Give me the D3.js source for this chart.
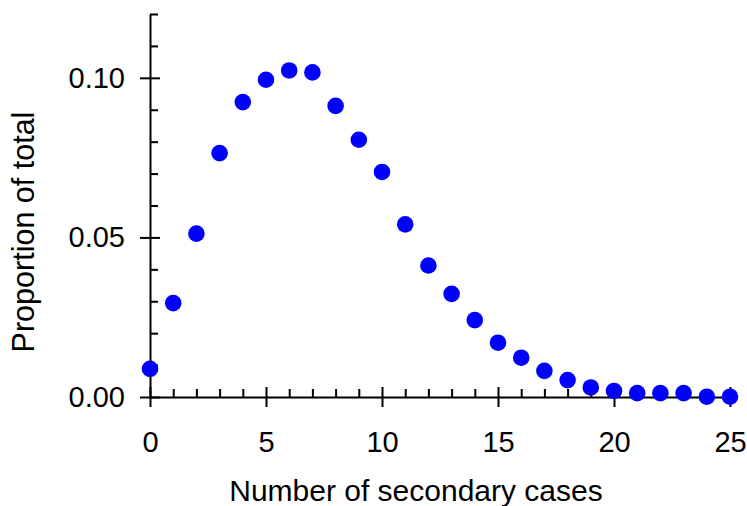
<!DOCTYPE html>
<html>
<head>
<meta charset="utf-8">
<script src="https://cdn.jsdelivr.net/npm/d3@7"></script>
<style>
  body { margin: 0; background: #fff; }
  text { font-family: "Liberation Sans", Arial, sans-serif; fill: #000; }
  .axis path, .axis line { stroke: #000; stroke-width: 2; }
</style>
</head>
<body>
<div id="chart"></div>
<script>
// number of secondary cases
var cases = [0,1,2,3,4,5,6,7,8,9,10,11,12,13,14,15,16,17,18,19,20,21,22,23,24,25];
// proportion of total
var proportion = [0.0088,0.0294,0.0512,0.0764,0.0924,0.0994,0.1023,0.1017,0.0912,0.0806,
                  0.0705,0.0541,0.0412,0.0323,0.0241,0.0170,0.0123,0.0082,0.0053,0.0030,
                  0.0019,0.0012,0.0012,0.0012,0.0001,0.0001];
var xMajor = [0,5,10,15,20,25];
var xMinor = d3.range(0, 26).filter(d => d % 5 != 0);
var yMajor = [0, 0.05, 0.10];
var yMinor = [0.01,0.02,0.03,0.04,0.06,0.07,0.08,0.09,0.11,0.12];

var width = 747, height = 506;

var svg = d3.select("#chart")
  .append("svg")
  .attr("width", width)
  .attr("height", height);

var x = d3.scaleLinear().domain([0, 25]).range([150, 730]);
var y = d3.scaleLinear().domain([0, 0.12]).range([397, 14]);

/* y axis: major ticks cross the line, minor ticks point inwards */
var gy = svg.append("g")
  .attr("class", "axis")
  .attr("transform", "translate(150,0)")
  .call(d3.axisLeft(y).tickValues(yMajor).tickSize(10).tickSizeOuter(0)
        .tickPadding(15).tickFormat(d3.format(".2f")));
gy.selectAll(".tick line").attr("x1", 10);
gy.selectAll(".tick text").attr("font-size", 29);

svg.append("g")
  .attr("class", "axis")
  .attr("transform", "translate(150,0)")
  .call(d3.axisRight(y).tickValues(yMinor).tickSize(8).tickFormat(""))
  .select(".domain").remove();

/* x axis */
var gx = svg.append("g")
  .attr("class", "axis")
  .attr("transform", "translate(0,397)")
  .call(d3.axisBottom(x).tickValues(xMajor).tickSize(10).tickSizeOuter(0)
        .tickPadding(24));
gx.selectAll(".tick line").attr("y1", -10);
gx.selectAll(".tick text").attr("font-size", 29);

svg.append("g")
  .attr("class", "axis")
  .attr("transform", "translate(0,397)")
  .call(d3.axisTop(x).tickValues(xMinor).tickSize(8).tickFormat(""))
  .select(".domain").remove();

svg.selectAll(".axis text").attr("font-family", '"Liberation Sans", Arial, sans-serif');

/* points */
svg.selectAll(".dot")
  .data(cases)
  .enter()
  .append("circle")
  .attr("class", "dot")
  .attr("cx", d => x(d))
  .attr("cy", (d, i) => y(proportion[i]))
  .attr("r", 8.3)
  .attr("fill", "#0000ff");

/* axis titles */
svg.append("text")
  .attr("x", 416)
  .attr("y", 501)
  .attr("text-anchor", "middle")
  .attr("font-size", 30)
  .text("Number of secondary cases");

svg.append("text")
  .attr("transform", "translate(34,232) rotate(-90)")
  .attr("text-anchor", "middle")
  .attr("font-size", 30.5)
  .text("Proportion of total");
</script>
</body>
</html>
